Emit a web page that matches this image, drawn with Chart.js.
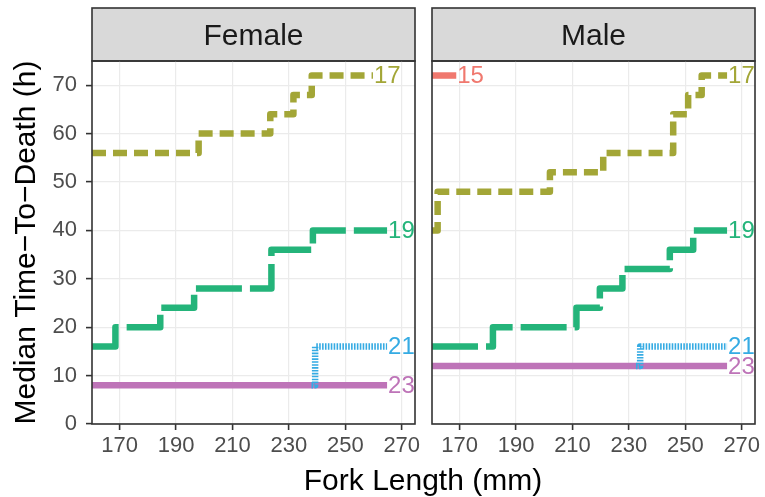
<!DOCTYPE html>
<html>
<head>
<meta charset="utf-8">
<script src="https://cdn.jsdelivr.net/npm/chart.js@4.4.1/dist/chart.umd.min.js"></script>
<style>
  body { margin: 0; background: #fff; }
  #wrap { position: relative; width: 765px; height: 497px; overflow: hidden; font-family: "Liberation Sans", Arial, sans-serif; }
  canvas { position: absolute; top: 0; }
  #female { left: 0; }
  #male { left: 423px; }
  #xtitle { position: absolute; left: 223px; width: 400px; top: 465px; text-align: center; font-size: 30px; line-height: 30px; color: #000; }
</style>
</head>
<body>
<div id="wrap">
  <canvas id="female" width="423" height="497"></canvas>
  <canvas id="male" width="342" height="497"></canvas>
  <div id="xtitle">Fork Length (mm)</div>
</div>
<script>
const panels = ["Female", "Male"];
const groups = ["15", "17", "19", "21", "23"];
const colors = ["#F0786E", "#A3A637", "#24B47A", "#35ABE3", "#BE74B8"];
const dashes = [[], [14, 7], [46, 8], [1.6, 1.3], []];
const xTicks = [170, 190, 210, 230, 250, 270];
const yTicks = [0, 10, 20, 30, 40, 50, 60, 70];

// Female
const f17x = [160.2, 198.0, 223.4, 231.6, 238.1, 259.8];
const f17y = [56, 60, 64, 68, 72, 72];
const f19x = [160.2, 168.5, 184.4, 196.4, 223.8, 238.5, 264.8];
const f19y = [16, 20, 24, 28, 36, 40, 40];
const f21x = [238.0, 239.3, 264.8];
const f21y = [8, 16, 16];
const f23x = [160.2, 264.8];
const f23y = [8, 8];

// Male
const m15x = [160.2, 168.8];
const m15y = [72, 72];
const m17x = [160.2, 162.2, 202.0, 220.9, 245.7, 251.0, 255.8, 264.8];
const m17y = [40, 48, 52, 56, 64, 68, 72, 72];
const m19x = [160.2, 181.8, 211.4, 219.7, 227.7, 244.5, 252.8, 264.8];
const m19y = [16, 20, 24, 28, 32, 36, 40, 40];
const m21x = [232.5, 234.0, 264.8];
const m21y = [12, 16, 16];
const m23x = [160.2, 264.8];
const m23y = [12, 12];

function series(group, xs, ys) {
    const i = groups.indexOf(group);
    return {
        label: group,
        data: xs.map((x, k) => ({ x: x, y: ys[k] })),
        borderColor: colors[i],
        borderWidth: 6.5,
        borderDash: dashes[i],
        borderCapStyle: "butt",
        borderJoinStyle: "round",
        stepped: "before",
        pointRadius: 0,
        fill: false
    };
}

const FONT = "'Liberation Sans', Arial, sans-serif";
Chart.defaults.font.family = FONT;

// strip, panel border and end-of-line labels
const facet = {
    id: "facet",
    beforeDraw(chart, args, opts) {
        const a = chart.chartArea, ctx = chart.ctx;
        ctx.save();
        ctx.fillStyle = "#D9D9D9";
        ctx.fillRect(a.left, 8, a.width, a.top - 8);
        ctx.strokeStyle = "#333333";
        ctx.lineWidth = 1.6;
        ctx.strokeRect(a.left, 8, a.width, a.top - 8);
        ctx.fillStyle = "#1A1A1A";
        ctx.font = "30px " + FONT;
        ctx.textAlign = "center";
        ctx.textBaseline = "alphabetic";
        ctx.fillText(opts.label, (a.left + a.right) / 2, 45);
        ctx.restore();
    },
    afterDatasetsDraw(chart) {
        const a = chart.chartArea, ctx = chart.ctx;
        ctx.save();
        ctx.beginPath();
        ctx.rect(a.left, a.top, a.width, a.height);
        ctx.clip();
        ctx.font = "24px " + FONT;
        ctx.textAlign = "left";
        ctx.textBaseline = "middle";
        chart.data.datasets.forEach((ds, i) => {
            const pts = chart.getDatasetMeta(i).data;
            const last = pts[pts.length - 1];
            ctx.fillStyle = ds.borderColor;
            ctx.fillText(ds.label, last.x + 1, last.y + 1);
        });
        ctx.restore();
    },
    afterDraw(chart) {
        const a = chart.chartArea, ctx = chart.ctx;
        ctx.save();
        ctx.strokeStyle = "#333333";
        ctx.lineWidth = 1.6;
        ctx.strokeRect(a.left, a.top, a.width, a.height);
        ctx.restore();
    }
};

function makePanel(id, name, datasets, left) {
    return new Chart(document.getElementById(id), {
        type: "line",
        data: { datasets: datasets },
        plugins: [facet],
        options: {
            responsive: false,
            animation: false,
            layout: { padding: { top: 61, right: left ? 8 : 10, bottom: 0, left: 0 } },
            plugins: {
                legend: { display: false },
                tooltip: { enabled: false },
                facet: { label: name }
            },
            scales: {
                x: {
                    type: "linear",
                    min: 160.2,
                    max: 274.7,
                    afterBuildTicks: (s) => { s.ticks = xTicks.map(v => ({ value: v })); },
                    afterFit: (s) => { s.height = 73; s.paddingLeft = 0; s.paddingRight = 0; },
                    grid: { color: "#EBEBEB", lineWidth: 1.2, tickColor: "#333333", tickWidth: 1.6, tickLength: 6 },
                    border: { display: false },
                    ticks: { color: "#4D4D4D", font: { size: 22 }, padding: 3, maxRotation: 0 }
                },
                y: {
                    type: "linear",
                    min: 0,
                    max: 75,
                    afterBuildTicks: (s) => { s.ticks = yTicks.map(v => ({ value: v })); },
                    afterFit: (s) => { s.width = left ? 92 : 9; s.paddingTop = 0; s.paddingBottom = 0; },
                    grid: {
                        color: "#EBEBEB", lineWidth: 1.2, tickColor: "#333333", tickWidth: 1.6,
                        tickLength: left ? 6 : 0, drawTicks: left
                    },
                    border: { display: false },
                    ticks: { display: left, color: "#4D4D4D", font: { size: 22 }, padding: 9 },
                    title: {
                        display: left,
                        text: "Median Time\u2212To\u2212Death (h)",
                        color: "#000000",
                        font: { size: 30 },
                        padding: { top: 9, bottom: 0 }
                    }
                }
            }
        }
    });
}

makePanel("female", panels[0], [
    series("17", f17x, f17y),
    series("19", f19x, f19y),
    series("21", f21x, f21y),
    series("23", f23x, f23y)
], true);

makePanel("male", panels[1], [
    series("15", m15x, m15y),
    series("17", m17x, m17y),
    series("19", m19x, m19y),
    series("21", m21x, m21y),
    series("23", m23x, m23y)
], false);
</script>
</body>
</html>
